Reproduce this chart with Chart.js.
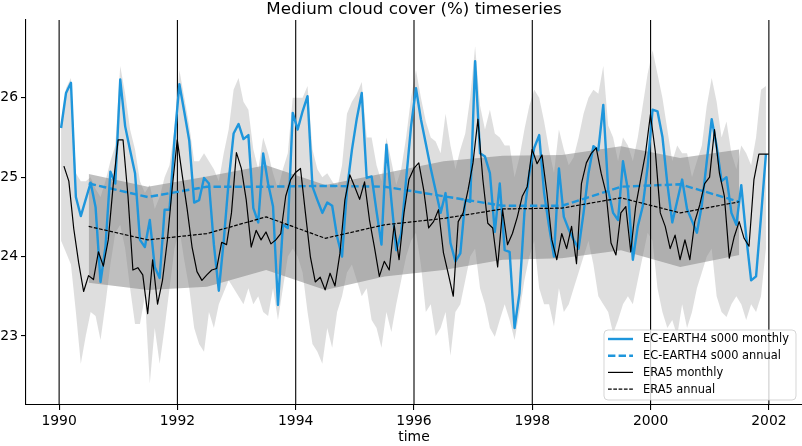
<!DOCTYPE html>
<html><head><meta charset="utf-8">
<script src="https://cdn.jsdelivr.net/npm/chart.js@4.4.0/dist/chart.umd.min.js"></script>
<style>html,body{margin:0;padding:0;background:#fff;overflow:hidden}canvas{display:block}</style>
</head><body>
<canvas id="c" width="802" height="446"></canvas>
<script>
const titleText = 'Medium cloud cover (%) timeseries';
const xTitle = 'time';
const xTicks = [1990, 1992, 1994, 1996, 1998, 2000, 2002];
const yTicks = [23, 24, 25, 26];
const annualYears = [1990.5,1991.5,1992.5,1993.5,1994.5,1995.5,1996.5,1997.5,1998.5,1999.5,2000.5,2001.5];

const ecMonthly = [
 25.62,26.06,26.19,24.75,24.51,24.72,24.93,24.62,23.68,24.12,25.07,24.92,
 26.23,25.64,25.34,25.05,24.21,24.12,24.46,23.87,23.73,24.59,24.59,25.47,
 26.17,25.82,25.46,24.68,24.71,24.99,24.92,24.15,23.57,24.20,24.95,25.55,
 25.67,25.48,25.53,24.61,24.43,25.30,24.92,24.63,23.39,24.40,24.36,25.81,
 25.60,25.83,26.02,24.88,24.71,24.55,24.68,24.64,24.25,24.00,24.84,25.34,
 25.74,26.06,24.99,25.01,24.57,24.15,25.41,24.71,24.08,24.29,24.97,25.64,
 26.12,25.73,25.42,25.11,24.83,24.55,24.80,24.17,23.94,24.04,24.71,24.69,
 26.46,25.30,25.26,25.05,24.31,24.92,24.08,24.06,23.10,23.54,24.55,25.05,
 25.37,25.53,24.80,24.38,24.00,25.11,24.50,24.34,24.21,24.10,24.55,25.05,
 25.39,25.34,25.91,24.84,24.55,24.46,25.20,24.84,23.96,24.38,24.63,25.13,
 25.85,25.83,25.51,24.92,24.43,24.70,24.97,24.60,24.45,24.30,24.65,25.20,
 25.73,25.39,24.95,25.00,24.55,24.40,24.90,24.25,23.70,23.75,24.50,25.29];

const era5Monthly = [
 25.14,24.95,24.35,23.92,23.56,23.76,23.71,24.06,23.88,24.21,24.90,25.47,
 25.47,24.76,23.83,23.86,23.77,23.28,23.96,23.40,23.70,24.21,24.88,25.47,
 25.03,24.60,24.12,23.81,23.70,23.77,23.83,23.85,24.18,24.15,24.55,25.31,
 25.11,24.71,24.12,24.33,24.21,24.31,24.16,24.21,24.29,24.76,24.97,25.06,
 25.11,24.55,24.00,23.68,23.74,23.58,23.79,23.63,24.04,24.71,25.03,24.88,
 24.72,24.94,24.46,24.12,23.75,23.94,23.83,24.40,23.96,24.55,24.97,25.11,
 25.18,24.84,24.36,24.44,24.59,24.05,23.78,23.50,24.44,24.55,24.84,25.18,
 25.73,24.97,24.42,24.36,23.87,24.59,24.15,24.29,24.50,24.76,24.88,25.35,
 25.17,25.28,24.80,24.21,23.96,24.29,24.10,24.38,23.91,24.92,25.18,25.30,
 25.37,25.05,24.80,24.17,24.02,24.55,24.63,24.06,24.63,24.97,25.30,25.79,
 25.32,24.55,24.38,24.10,24.27,23.96,24.21,23.96,24.44,24.65,24.92,25.00,
 25.60,25.05,24.76,23.98,24.25,24.44,24.23,24.13,24.97,25.29,25.29,25.29];

const ecMonthlyMax = [
 25.70,26.12,26.25,25.05,24.95,24.95,25.00,24.85,24.75,24.95,25.20,25.40,
 26.40,26.05,25.60,25.35,24.95,24.80,24.90,24.60,24.75,25.00,25.15,25.60,
 26.35,26.00,25.65,25.20,25.20,25.30,25.20,25.10,24.95,25.30,25.60,26.10,
 26.25,25.95,25.85,25.35,25.10,25.50,25.30,25.05,24.85,25.10,25.30,26.00,
 26.00,26.00,26.15,25.35,25.10,25.00,25.05,24.95,24.85,25.15,25.80,25.95,
 26.05,26.20,25.50,25.50,25.15,24.95,25.50,25.20,24.90,25.10,25.50,26.00,
 26.35,26.00,25.70,25.50,25.45,25.30,25.80,25.40,25.10,25.35,25.55,26.00,
 26.65,25.90,25.60,25.85,25.55,25.50,25.40,25.40,25.00,25.25,25.60,25.90,
 26.10,26.00,25.70,25.35,25.05,25.60,25.35,25.15,25.25,25.50,25.80,26.00,
 26.10,26.05,26.40,25.65,25.50,25.20,25.50,25.40,25.20,25.50,25.90,26.30,
 26.60,26.30,26.00,25.60,25.20,25.40,25.30,25.30,25.00,25.20,25.40,25.90,
 26.25,25.95,25.50,25.70,25.30,25.10,25.40,25.30,25.15,25.50,26.10,26.15];

const ecMonthlyMin = [
 24.20,24.05,23.90,23.30,22.65,23.00,23.30,23.25,22.95,23.40,23.90,24.30,
 24.40,24.10,23.60,23.15,23.15,23.50,22.40,23.10,22.65,23.10,23.60,24.10,
 24.35,23.95,23.60,23.10,22.90,22.80,23.30,23.10,23.40,23.55,23.70,23.60,
 23.50,23.40,23.60,23.40,23.50,23.30,23.25,23.60,23.20,23.60,24.00,24.10,
 24.00,23.80,23.30,22.90,22.80,22.65,23.10,22.85,23.30,23.50,23.80,23.90,
 23.70,23.50,23.60,23.20,23.10,22.85,23.30,23.05,23.40,23.70,24.00,24.20,
 24.30,23.90,23.30,23.40,23.00,23.10,23.30,22.75,23.30,23.40,23.70,24.00,
 24.10,23.60,23.40,23.10,22.99,23.20,23.40,23.20,22.95,23.30,23.70,24.00,
 24.20,23.60,23.40,23.40,23.12,23.60,23.30,23.40,23.60,23.80,24.00,24.20,
 23.90,23.50,23.40,23.30,23.03,23.20,23.40,23.50,23.40,23.70,24.00,24.30,
 24.20,23.60,23.30,23.10,23.20,23.00,23.40,23.10,23.30,23.60,23.80,24.00,
 24.10,23.50,23.30,23.24,23.40,23.50,23.40,23.20,23.40,23.30,23.50,24.10];

const ecAnnual = [24.92,24.75,24.88,24.88,24.89,24.88,24.76,24.64,24.64,24.88,24.91,24.69];
const era5Annual = [24.38,24.21,24.29,24.50,24.23,24.40,24.48,24.60,24.61,24.74,24.55,24.69];
const ecAnnualMax = [25.04,24.88,25.01,25.15,24.90,25.05,25.20,25.27,25.28,25.39,25.24,25.35];
const ecAnnualMin = [23.67,23.58,23.62,23.83,23.58,23.75,23.83,23.96,23.98,24.08,23.87,24.02];

const BLUE = '#1e96dc';
const FONT = 'DejaVu Sans';

const ecDate = i => 1990 + (i + 0.4) / 12;
const eraDate = i => 1990 + (i + 0.97) / 12;
const pts = (arr, f) => arr.map((v, i) => ({x: f(i), y: v}));
const ann = arr => arr.map((v, i) => ({x: annualYears[i], y: v}));

const legendItems = [
  {label: 'EC-EARTH4 s000 monthly', color: BLUE, width: 2.4, dash: []},
  {label: 'EC-EARTH4 s000 annual', color: BLUE, width: 2.4, dash: [7.4, 3.2]},
  {label: 'ERA5 monthly', color: '#000', width: 1.2, dash: []},
  {label: 'ERA5 annual', color: '#000', width: 1.2, dash: [3.7, 1.6]}
];

const gridPlugin = {
  id: 'vgrid',
  afterDatasetDraw(chart, args) {
    if (!chart.data.datasets[args.index].gridAfter) return;
    const {ctx, chartArea: a} = chart;
    const xs = chart.scales.x;
    ctx.save();
    ctx.strokeStyle = '#000';
    ctx.lineWidth = 1.1;
    xTicks.forEach(v => {
      const px = xs.getPixelForValue(v);
      ctx.beginPath(); ctx.moveTo(px, a.top); ctx.lineTo(px, a.bottom); ctx.stroke();
    });
    ctx.restore();
  }
};

const decoPlugin = {
  id: 'deco',
  afterDraw(chart) {
    const {ctx, chartArea: a} = chart;
    ctx.save();
    ctx.fillStyle = '#000';
    ctx.font = '16.7px "' + FONT + '"';
    ctx.textAlign = 'center'; ctx.textBaseline = 'middle';
    ctx.fillText(titleText, (a.left + a.right) / 2, 10);
    const bx = 604, by = 330, bw = 192, bh = 70, r = 4;
    ctx.beginPath();
    ctx.moveTo(bx + r, by); ctx.lineTo(bx + bw - r, by); ctx.quadraticCurveTo(bx + bw, by, bx + bw, by + r);
    ctx.lineTo(bx + bw, by + bh - r); ctx.quadraticCurveTo(bx + bw, by + bh, bx + bw - r, by + bh);
    ctx.lineTo(bx + r, by + bh); ctx.quadraticCurveTo(bx, by + bh, bx, by + bh - r);
    ctx.lineTo(bx, by + r); ctx.quadraticCurveTo(bx, by, bx + r, by);
    ctx.closePath();
    ctx.fillStyle = 'rgba(255,255,255,0.8)'; ctx.fill();
    ctx.strokeStyle = 'rgba(204,204,204,0.8)'; ctx.lineWidth = 1; ctx.stroke();
    ctx.font = '11.4px "' + FONT + '"';
    ctx.textAlign = 'left';
    legendItems.forEach((it, k) => {
      const y = 339 + k * 16.7;
      ctx.beginPath(); ctx.setLineDash(it.dash); ctx.strokeStyle = it.color; ctx.lineWidth = it.width;
      ctx.moveTo(608, y); ctx.lineTo(633, y); ctx.stroke();
      ctx.setLineDash([]);
      ctx.fillStyle = '#000'; ctx.fillText(it.label, 643, y + 0.5);
    });
    ctx.restore();
  }
};

const lineBase = {pointRadius: 0, pointHoverRadius: 0, tension: 0, borderJoinStyle: 'round', borderCapStyle: 'butt', fill: false};

new Chart(document.getElementById('c'), {
  type: 'line',
  data: {
    datasets: [
      Object.assign({}, lineBase, {label: 'EC-EARTH4 s000 monthly', data: pts(ecMonthly, ecDate), borderColor: BLUE, borderWidth: 2.4, order: 4}),
      Object.assign({}, lineBase, {label: 'EC-EARTH4 s000 annual', data: ann(ecAnnual), borderColor: BLUE, borderWidth: 2.4, borderDash: [7.4, 3.2], order: 3}),
      Object.assign({}, lineBase, {label: 'ERA5 monthly', data: pts(era5Monthly, eraDate), borderColor: '#000', borderWidth: 1.2, order: 2}),
      Object.assign({}, lineBase, {label: 'ERA5 annual', data: ann(era5Annual), borderColor: '#000', borderWidth: 1.2, borderDash: [3.7, 1.6], order: 1}),
      Object.assign({}, lineBase, {label: 'mmax', data: pts(ecMonthlyMax, ecDate), borderWidth: 0, borderColor: 'rgba(0,0,0,0)', order: 10,
        fill: {target: 5, above: 'rgba(200,200,200,0.6)', below: 'rgba(200,200,200,0.6)'}}),
      Object.assign({}, lineBase, {label: 'mmin', data: pts(ecMonthlyMin, ecDate), borderWidth: 0, borderColor: 'rgba(0,0,0,0)', order: 11}),
      Object.assign({}, lineBase, {label: 'amax', data: ann(ecAnnualMax), borderWidth: 0, borderColor: 'rgba(0,0,0,0)', order: 8, gridAfter: true,
        fill: {target: 7, above: 'rgba(128,128,128,0.5)', below: 'rgba(128,128,128,0.5)'}}),
      Object.assign({}, lineBase, {label: 'amin', data: ann(ecAnnualMin), borderWidth: 0, borderColor: 'rgba(0,0,0,0)', order: 9})
    ]
  },
  options: {
    responsive: false, animation: false, devicePixelRatio: 1,
    layout: {padding: {top: 20, left: 0, right: 0, bottom: 0}},
    plugins: {legend: {display: false}, title: {display: false}, tooltip: {enabled: false}},
    scales: {
      x: {
        type: 'linear', min: 1989.44, max: 2002.56,
        afterBuildTicks: s => { s.ticks = xTicks.map(v => ({value: v})); },
        afterFit: s => { s.height = 41; },
        ticks: {autoSkip: false, maxRotation: 0, padding: 3, color: '#000', font: {family: FONT, size: 13.9}, callback: v => String(v)},
        grid: {display: true, drawOnChartArea: false, drawTicks: true, tickLength: 5, color: '#000', lineWidth: 1.1},
        border: {display: true, color: '#000', width: 1.1},
        title: {display: true, text: xTitle, color: '#000', font: {family: FONT, size: 13.9}, padding: {top: 0, bottom: 0}}
      },
      y: {
        type: 'linear', min: 22.13, max: 26.98,
        afterBuildTicks: s => { s.ticks = yTicks.map(v => ({value: v})); },
        afterFit: s => { s.width = 26; },
        ticks: {padding: 3, color: '#000', font: {family: FONT, size: 13.9}, callback: v => String(v)},
        grid: {display: true, drawOnChartArea: false, drawTicks: true, tickLength: 5, color: '#000', lineWidth: 1.1},
        border: {display: true, color: '#000', width: 1.1}
      }
    }
  },
  plugins: [gridPlugin, decoPlugin]
});
</script>
</body></html>
